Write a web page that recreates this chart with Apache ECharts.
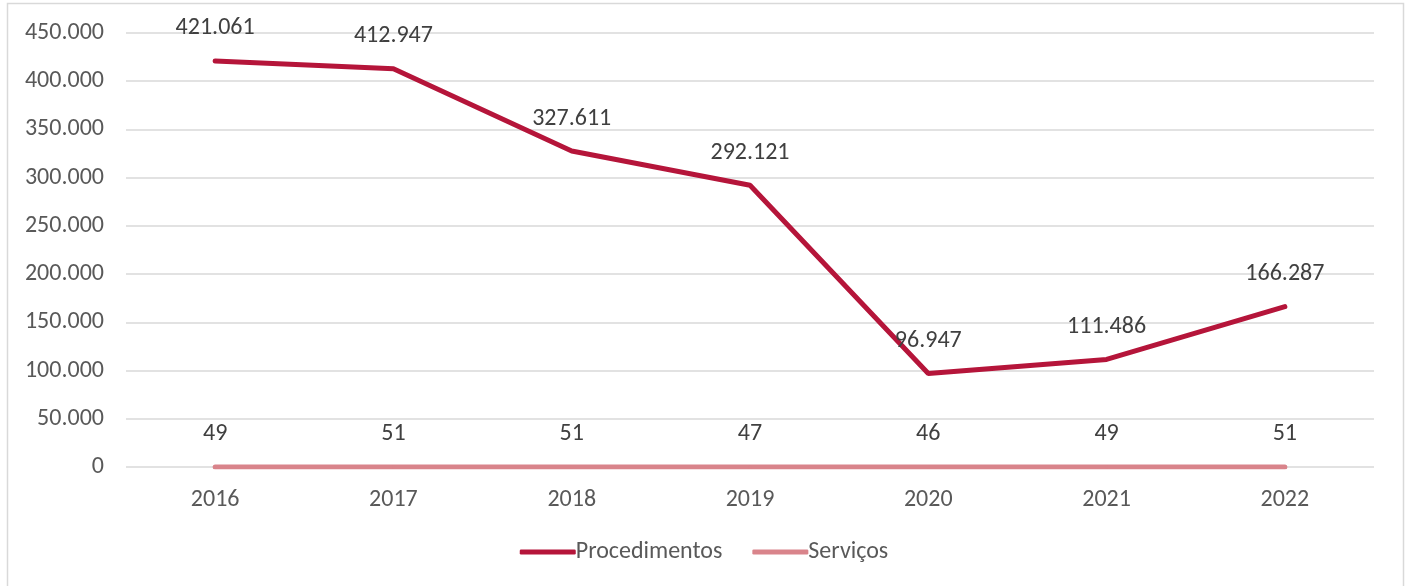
<!DOCTYPE html>
<html>
<head>
    <meta charset="UTF-8">
    <title>Procedimentos e Serviços</title>
    <style>
        * {
            margin: 0;
            padding: 0
        }

        #chart {
            width: 1408px;
            height: 586px;
        }
    </style>
</head>
<body>
<div id="chart"></div>
<script src="https://cdn.jsdelivr.net/npm/echarts@6/dist/echarts.min.js"></script>
<script>
    var anos = ['2016', '2017', '2018', '2019', '2020', '2021', '2022'];
    var procedimentos = [421061, 412947, 327611, 292121, 96947, 111486, 166287];
    var servicos = [49, 51, 51, 47, 46, 49, 51];

    // formato pt-BR: separador de milhar com ponto
    function fmt(v) {
        return String(v).replace(/\B(?=(\d{3})+(?!\d))/g, '.');
    }

    var myChart = echarts.init(document.getElementById('chart'));
    var fonte = 'Carlito, "Open Sans", "Noto Sans", sans-serif';
    var tam = 24;

    var option = {
        animation: false,
        textStyle: {fontFamily: fonte},
        graphic: [{
            type: 'rect',
            shape: {x: 7.5, y: 3.5, width: 1396, height: 590},
            style: {fill: 'none', stroke: '#d9d9d9', lineWidth: 1.5}
        }],
        grid: {
            left: 126,
            right: 34,
            top: 33,
            bottom: 119
        },
        legend: {
            bottom: 17,
            left: 'center',
            itemWidth: 56,
            itemHeight: 5,
            itemGap: 30,
            icon: 'roundRect',
            textStyle: {fontSize: tam, color: '#595959', fontFamily: fonte, padding: [0, 0, 0, -5]},
            data: ['Procedimentos', 'Serviços']
        },
        xAxis: {
            type: 'category',
            data: anos,
            axisLine: {show: false},
            axisTick: {show: false},
            axisLabel: {fontSize: tam, color: '#595959', margin: 21}
        },
        yAxis: {
            type: 'value',
            min: 0,
            max: 450000,
            interval: 50000,
            axisLabel: {
                fontSize: tam,
                color: '#595959',
                margin: 22,
                formatter: fmt
            },
            splitLine: {lineStyle: {color: '#d9d9d9', width: 1.5}}
        },
        series: [
            {
                name: 'Procedimentos',
                type: 'line',
                data: procedimentos,
                symbol: 'circle',
                symbolSize: 3,
                showSymbol: true,
                color: '#b5153a',
                lineStyle: {width: 5, color: '#b5153a', cap: 'round'},
                label: {
                    show: true,
                    position: 'top',
                    distance: 19,
                    fontSize: tam,
                    color: '#404040',
                    formatter: function (p) { return fmt(p.value); }
                }
            },
            {
                name: 'Serviços',
                type: 'line',
                data: servicos,
                symbol: 'circle',
                symbolSize: 3,
                showSymbol: true,
                color: '#d9848b',
                lineStyle: {width: 5, color: '#d9848b', cap: 'round'},
                label: {
                    show: true,
                    position: 'top',
                    distance: 19,
                    fontSize: tam,
                    color: '#404040'
                }
            }
        ]
    };

    myChart.setOption(option);
</script>
</body>
</html>
